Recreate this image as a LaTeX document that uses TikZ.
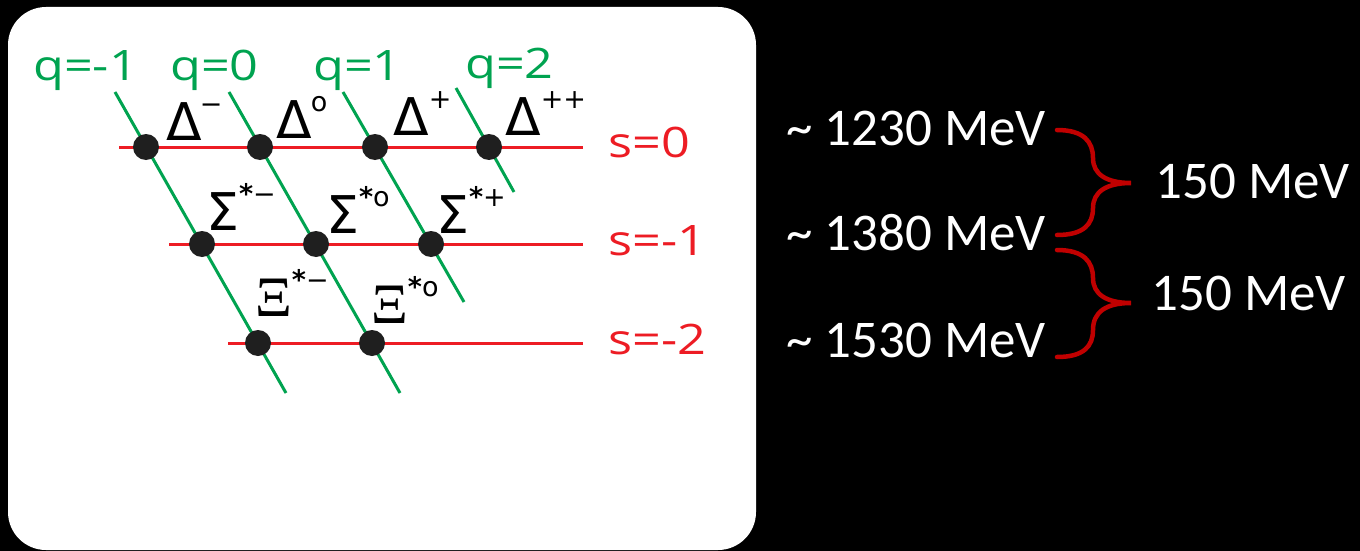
\documentclass[tikz,border=0pt]{standalone}
\usepackage{fontspec}
\setmainfont{Carlito}
\newfontfamily\qfont{Open Sans}
\newfontfamily\gfont{DejaVu Sans}
\newfontfamily\xfont{Liberation Serif}
\usepackage{graphicx}
\definecolor{qgreen}{RGB}{0,163,80}
\definecolor{sred}{RGB}{237,28,36}
\definecolor{bred}{RGB}{192,0,0}
\newcommand{\supx}[1]{\raisebox{27pt}{\fontsize{27}{29}\selectfont #1}}
\begin{document}
\begin{tikzpicture}[x=1pt,y=-1pt,
  qline/.style={draw=qgreen,line width=3pt},
  sline/.style={draw=sred,line width=3pt},
  dot/.style={circle,fill=black!88,minimum size=26pt,inner sep=0pt},
  qlab/.style={text=qgreen,anchor=base west,inner sep=0pt,font=\qfont\fontsize{42}{46}\selectfont},
  slab/.style={text=sred,anchor=base west,inner sep=0pt,font=\qfont\fontsize{42}{46}\selectfont},
  glab/.style={text=black,anchor=base west,inner sep=0pt,font=\gfont\fontsize{52}{56}\selectfont},
  mev/.style={text=white,anchor=base east,inner sep=0pt,font=\fontsize{53}{58}\selectfont},
  bracepath/.style={draw=bred,line width=4.5pt,line cap=round}]
% background
\fill[black] (0,0) rectangle (1360,551);
\fill[white,rounded corners=38pt] (8,7) rectangle (756,550);
\useasboundingbox (0,0) rectangle (1360,551);

% line end coordinates
\coordinate (s0l) at (119,147); \coordinate (s0r) at (583,147);
\coordinate (s1l) at (169,244); \coordinate (s1r) at (583,244);
\coordinate (s2l) at (228,343); \coordinate (s2r) at (583,343);
\coordinate (qat) at (115,92);  \coordinate (qab) at (286,393);
\coordinate (qbt) at (229,92);  \coordinate (qbb) at (400,393);
\coordinate (qct) at (343,92);  \coordinate (qcb) at (464,302);
\coordinate (qdt) at (456,88);  \coordinate (qdb) at (514,192);

\draw[sline] (s0l) -- (s0r);
\draw[sline] (s1l) -- (s1r);
\draw[sline] (s2l) -- (s2r);
\draw[qline] (qat) -- (qab);
\draw[qline] (qbt) -- (qbb);
\draw[qline] (qct) -- (qcb);
\draw[qline] (qdt) -- (qdb);

% dots
\node[dot] (dm)  at (146,147) {};
\node[dot] (d0)  at (260,147) {};
\node[dot] (dp)  at (375,147) {};
\node[dot] (dpp) at (489,147) {};
\node[dot] (sm)  at (202,244) {};
\node[dot] (s0)  at (316,244) {};
\node[dot] (sp)  at (431,244) {};
\node[dot] (xm)  at (258,343) {};
\node[dot] (x0)  at (372,343) {};

% q labels
\node[qlab] (lq1) at (33,81)  {\scalebox{1.2}[1]{q=-1}};
\node[qlab] (lq2) at (170,81) {\scalebox{1.2}[1]{q=0}};
\node[qlab] (lq3) at (313,81) {\scalebox{1.2}[1]{q=1}};
\node[qlab] (lq4) at (465,78) {\scalebox{1.2}[1]{q=2}};

% s labels
\node[slab] (ls0) at (608,157) {\scalebox{1.2}[1]{s=0}};
\node[slab] (ls1) at (608,255) {\scalebox{1.2}[1]{s=-1}};
\node[slab] (ls2) at (608,354) {\scalebox{1.2}[1]{s=-2}};

% particle labels
\node[glab] (gdm)  at (166,140) {Δ\hspace{-2pt}\supx{−}};
\node[glab] (gd0)  at (276,138) {Δ\hspace{-1pt}\supx{o}};
\node[glab] (gdp)  at (393,135) {Δ\supx{+}};
\node[glab] (gdpp) at (505,135) {Δ\supx{++}};
\node[glab] (gsm)  at (206,230) {Σ\supx{\textbf{*}−}};
\node[glab] (gs0)  at (326,233) {Σ\supx{\textbf{*}o}};
\node[glab] (gsp)  at (436,233) {Σ\supx{\textbf{*}+}};
\node[glab] (gxm)  at (255,316) {\scalebox{1.1}{\xfont Ξ}\supx{\textbf{*}−}};
\node[glab] (gx0)  at (371,323) {\scalebox{1.1}{\xfont Ξ}\supx{\textbf{*}o}};

% energies
\node[mev] (e1) at (1046,145) {\textasciitilde\ 1230 MeV};
\node[mev] (e2) at (1046,250) {\textasciitilde\ 1380 MeV};
\node[mev] (e3) at (1046,357) {\textasciitilde\ 1530 MeV};
\node[mev] (d1) at (1350,198) {150 MeV};
\node[mev] (d2) at (1346,310) {150 MeV};

% braces
\coordinate (b1t) at (1057,130); \coordinate (b1m) at (1131,183); \coordinate (b1b) at (1057,235);
\coordinate (b2t) at (1057,250); \coordinate (b2m) at (1131,303); \coordinate (b2b) at (1057,357);
\draw[bracepath] (b1t) .. controls (1084,130) and (1093,142) .. (1093,158)
  .. controls (1093,174) and (1106,183) .. (b1m)
  .. controls (1106,183) and (1093,192) .. (1093,208)
  .. controls (1093,224) and (1084,235) .. (b1b);
\draw[bracepath] (b2t) .. controls (1084,250) and (1093,262) .. (1093,278)
  .. controls (1093,294) and (1106,303) .. (b2m)
  .. controls (1106,303) and (1093,312) .. (1093,330)
  .. controls (1093,346) and (1084,357) .. (b2b);
\end{tikzpicture}
\end{document}
